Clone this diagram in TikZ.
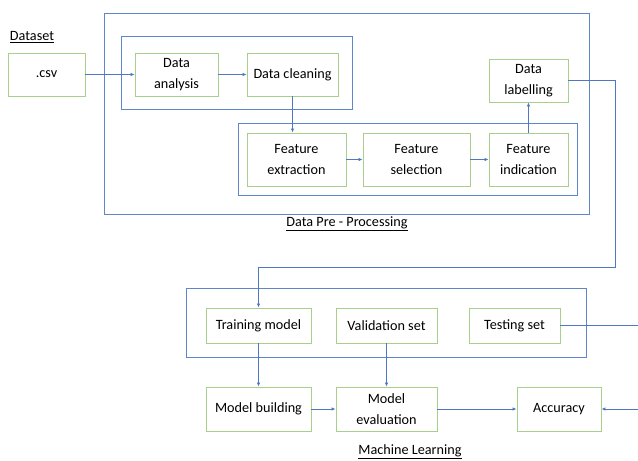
\documentclass[tikz,border=0pt]{standalone}
\usepackage{fontspec}
\setmainfont{Carlito}
\usetikzlibrary{arrows.meta}
\definecolor{boxgreen}{HTML}{A9CF8C}
\definecolor{contblue}{HTML}{5F86C9}
\definecolor{arrblue}{HTML}{4F78C0}
\tikzset{
  box/.style={draw=boxgreen, line width=0.9pt, align=center, inner sep=0pt,
    font=\fontsize{14.2}{21}\selectfont, text=black},
  container/.style={draw=contblue, line width=0.9pt, inner sep=0pt},
  conn/.style={draw=arrblue, line width=0.8pt, -{Latex[length=4pt,width=3.5pt]}},
  title/.style={font=\fontsize{14.2}{17}\selectfont, text=black, inner sep=0pt},
}
\begin{document}
\begin{tikzpicture}[x=1pt,y=-1pt]
\useasboundingbox (0,0) rectangle (638,461);
\clip (0,0) rectangle (638,461);
\fill[white] (0,0) rectangle (638,461);
% containers
\node[container, minimum width=485, minimum height=201] (pre) at (346.5,113.5) {};
\node[container, minimum width=231, minimum height=73] (grp1) at (236.5,72.5) {};
\node[container, minimum width=339, minimum height=72] (grp2) at (407.5,159) {};
\node[container, minimum width=400, minimum height=69] (ml) at (386,322.5) {};
% labels
\node[title] (dataset) at (32,37) {\underline{Dataset}};
\node[title] (prelabel) at (347,224) {\underline{Data Pre - Processing}};
\node[title] (mllabel) at (410,452) {\underline{Machine Learning}};
% boxes
\node[box, minimum width=77, minimum height=43] (csv) at (46.5,74.5) {.csv};
\node[box, minimum width=83, minimum height=43] (ana) at (176.5,74.5) {Data\\analysis};
\node[box, minimum width=91, minimum height=43] (clean) at (292.5,74.5) {Data cleaning};
\node[box, minimum width=99, minimum height=53] (fext) at (296.5,159.5) {Feature\\extraction};
\node[box, minimum width=107, minimum height=53] (fsel) at (416.5,159.5) {Feature\\selection};
\node[box, minimum width=79, minimum height=53] (find) at (528.5,159.5) {Feature\\indication};
\node[box, minimum width=79, minimum height=43] (lab) at (528.5,80.5) {Data\\labelling};
\node[box, minimum width=105, minimum height=35] (train) at (258.5,325.5) {Training model};
\node[box, minimum width=101, minimum height=35] (valid) at (386.5,325.5) {Validation set};
\node[box, minimum width=91, minimum height=35] (test) at (514.5,325.5) {Testing set};
\node[box, minimum width=105, minimum height=44] (build) at (258.5,409) {Model building};
\node[box, minimum width=101, minimum height=44] (eval) at (386.5,409) {Model\\evaluation};
\node[box, minimum width=84, minimum height=44] (acc) at (559,409) {Accuracy};
% route coordinates
\coordinate (c1) at (615,267);
\coordinate (r1) at (645,325.5);
\coordinate (r2) at (645,409);
% connectors
\draw[conn] (csv.east) -- (ana.west);
\draw[conn] (ana.east) -- (clean.west);
\draw[conn] (clean.south) -- (clean.south |- fext.north);
\draw[conn] (fext.east) -- (fsel.west);
\draw[conn] (fsel.east) -- (find.west);
\draw[conn] (find.north) -- (lab.south);
\draw[conn] (lab.east) -| (c1) -| (train.north);
\draw[conn] (train.south) -- (build.north);
\draw[conn] (valid.south) -- (eval.north);
\draw[conn] (build.east) -- (eval.west);
\draw[conn] (eval.east) -- (acc.west);
\draw[conn] (test.east) -- (r1) -- (r2) -- (acc.east);
\end{tikzpicture}
\end{document}
